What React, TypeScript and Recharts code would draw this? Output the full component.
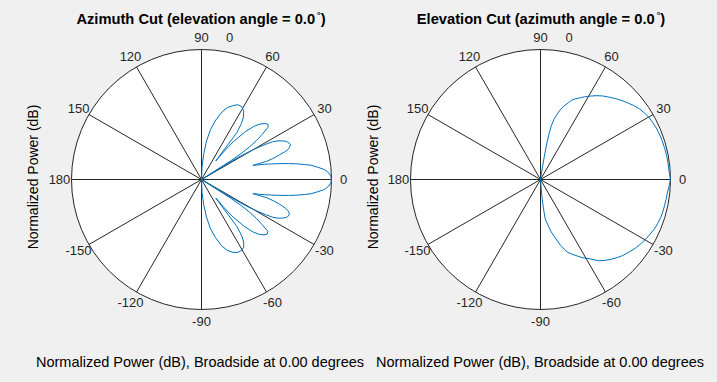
import React from "react";
import { RadarChart, Radar, PolarGrid, PolarAngleAxis, PolarRadiusAxis } from "recharts";

// angle ticks (deg), 0 at right, counter-clockwise
const ANGLE_TICKS = [-150, -120, -90, -60, -30, 0, 30, 60, 90, 120, 150, 180];
const POWER_RANGE: [number, number] = [-30, 0];

// azimuth cut (deg / dB)
const AZ_ANGLES = [
  -90, -87.5, -85, -82.5, -79.8, -76.5, -73.1, -70, -66.7, -63.5, -60.5, -58, -56, -54.5, -53, -52.4,
  -51.2, -49.9, -47.5, -45.5, -43.5, -41.5, -39.7, -38, -36.6, -35.4, -34.2, -33.3, -32.6, -32,
  -31.5, -30.9, -30.3, -29.6, -28.8, -27.9, -26.8, -25.5, -24, -22.5, -21, -19.8, -18.8, -17.6, -16.5, -15.6,
  -15.4, -14.5, -13.5, -12.6, -11.7, -10.4, -9.2, -8.3, -7.4, -6, -4.6, -3, -1.5, 0,
  1.5, 3, 4.6, 6, 7.4, 8.3, 9.2, 10.4, 11.7, 12.6, 13.5, 14.5, 15.4,
  15.6, 16.5, 17.6, 18.3, 19, 20, 21.3, 22.5, 24.1, 25.5, 26.8, 27.9, 28.8, 29.6, 30.3, 30.9, 31.5, 32,
  32.6, 33.3, 34.2, 35.4, 36.6, 38.1, 39.7, 41.5, 43.5, 45.5, 47.5, 49.9, 51.2, 52.4,
  53, 54.5, 56.2, 58.5, 61, 64, 66.7, 70, 73.1, 76.5, 79.8, 82.5, 85, 87.5, 90,
];
const AZ_POWER = [
  -30, -27, -24.2, -21.3, -18.6, -16.2, -14, -12.6, -11.7, -11.2, -11.2, -11.6, -12.6, -14, -16.5, -24.6,
  -21.6, -18.6, -15.2, -13, -11.6, -10.7, -10.3, -10.6, -12.6, -14.4, -16.5, -18.9, -22, -30,
  -24, -19.5, -17.4, -15.3, -13.2, -11.4, -10.2, -9.3, -8.5, -8.2, -8.3, -8.8, -9.6, -11.1, -12.6, -14.4,
  -17.7, -16.5, -15, -13.5, -12, -9.6, -7.5, -6, -4.5, -3, -1.5, -0.6, -0.15, 0,
  -0.15, -0.6, -1.5, -3, -4.5, -6, -7.5, -9.6, -12, -13.5, -15, -16.5, -17.7,
  -14.4, -12.6, -11.1, -9.9, -9, -8.4, -7.95, -8.1, -8.5, -9.3, -10.2, -11.4, -13.2, -15.3, -17.4, -19.5, -24, -30,
  -21.9, -18.9, -16.5, -14.4, -12.6, -10.5, -10.05, -10.5, -11.4, -12.9, -15, -18.6, -21.6, -24.6,
  -16.5, -14.1, -12.6, -11.4, -10.8, -10.8, -11.4, -12.3, -13.65, -15.9, -18.3, -21, -24, -27, -30,
];

// elevation cut
const EL_ANGLES = [
  -90, -87, -85.5, -84.5, -83.3, -82, -80.5, -78.5, -76, -73, -71, -69.3, -67.5, -65.5, -63, -61, -58,
  -54.3, -51.5, -48.5, -45.5, -43, -39.5, -36, -33, -29.6, -26.5, -23.5, -20.5, -17.6, -15, -12, -9, -6.6, -3, 0,
  2, 4.3, 7, 10, 14, 18, 21, 24, 27, 30.2, 33, 35.5, 38.5, 41, 44, 47, 50, 53.5, 56.5, 60, 62, 64, 66.8,
  68.5, 70, 72.5, 74.3, 76, 77.5, 78.7, 79.5, 80, 80.5, 81, 81.5, 90,
];
const EL_POWER = [
  -30, -30, -26.5, -24, -21, -20.1, -19.2, -17.7, -16.2, -14.1, -12.9, -12, -11.4, -10.8, -9.95, -9.3, -8.4,
  -6.9, -6.15, -5.4, -4.74, -4.2, -3.6, -3, -2.55, -2.1, -1.74, -1.35, -1.11, -0.9, -0.81, -0.75, -0.66, -0.6, -0.3, 0,
  -0.15, -0.3, -0.33, -0.36, -0.45, -0.54, -0.63, -0.75, -0.96, -1.2, -1.56, -1.95, -2.55, -3.15, -3.81, -4.5,
  -5.22, -6, -6.81, -7.8, -8.4, -9, -9.75, -10.35, -11.1, -12.3, -13.35, -14.7, -15.9, -17.4, -19.5, -21, -24,
  -27, -30, -30,
];

const azData = AZ_ANGLES.map((angle, i) => ({ angle, power: AZ_POWER[i] }));
const elData = EL_ANGLES.map((angle, i) => ({ angle, power: EL_POWER[i] }));

const FONT = '"Liberation Sans", Arial, Helvetica, sans-serif';
const R = 130;

const AngleTick = (props: any) => (
  <text
    x={props.x}
    y={props.y}
    textAnchor="middle"
    dominantBaseline="central"
    fontSize={13}
    fontFamily={FONT}
    fill="#262626"
  >
    {props.payload.value}
  </text>
);

const PolarPlot = ({ data, left, width, cx }: { data: any[]; left: number; width: number; cx: number }) => {
  const cy = 179.5;
  return (
    <div style={{ position: "absolute", left, top: 0, width, height: 382 }}>
      <div
        style={{
          position: "absolute",
          left: cx - R,
          top: cy - R,
          width: 2 * R,
          height: 2 * R,
          borderRadius: "50%",
          background: "#fff",
        }}
      />
      <div style={{ position: "absolute", left: 0, top: 0 }}>
        <RadarChart
          width={width}
          height={382}
          data={data}
          cx={cx}
          cy={cy}
          outerRadius={R}
          startAngle={-180}
          endAngle={180}
          margin={{ top: 0, right: 0, bottom: 0, left: 0 }}
        >
          <PolarGrid gridType="circle" polarRadius={[R]} stroke="#262626" strokeWidth={1} />
          <PolarAngleAxis
            dataKey="angle"
            type="number"
            domain={[-180, 180]}
            ticks={ANGLE_TICKS}
            tick={AngleTick}
            tickLine={false}
            axisLine={false}
            tickSize={12}
          />
          <PolarRadiusAxis type="number" domain={POWER_RANGE} tick={false} axisLine={false} />
          <Radar
            dataKey="power"
            stroke="#0072BD"
            strokeWidth={1}
            fill="none"
            fillOpacity={0}
            dot={false}
            isAnimationActive={false}
          />
        </RadarChart>
      </div>
    </div>
  );
};

export default function App() {
  return (
    <div
      style={{
        position: "relative",
        width: 717,
        height: 382,
        background: "#f0f0f0",
        overflow: "hidden",
        fontFamily: FONT,
      }}
    >
      <style>{`body{margin:0}`}</style>
      <PolarPlot data={azData} left={0} width={358} cx={201.5} />
      <PolarPlot data={elData} left={358} width={359} cx={182.5} />
      <svg width={717} height={382} style={{ position: "absolute", left: 0, top: 0, pointerEvents: "none" }} fontFamily={FONT}>
        <text x={201} y={24} textAnchor="middle" fontSize={14.7} fontWeight="bold" fill="#000">
          Azimuth Cut (elevation angle = 0.0
          <tspan dx={2} dy={-6} fontSize={9}>°</tspan>
          <tspan dy={6}>)</tspan>
        </text>
        <text x={541} y={24} textAnchor="middle" fontSize={14.7} fontWeight="bold" fill="#000">
          Elevation Cut (azimuth angle = 0.0
          <tspan dx={2} dy={-6} fontSize={9}>°</tspan>
          <tspan dy={6}>)</tspan>
        </text>
        <text x={229.5} y={42} textAnchor="middle" fontSize={13} fill="#262626">0</text>
        <text x={569} y={42} textAnchor="middle" fontSize={13} fill="#262626">0</text>
        <text transform="translate(38,177) rotate(-90)" textAnchor="middle" fontSize={14} fill="#000">
          Normalized Power (dB)
        </text>
        <text transform="translate(378,177) rotate(-90)" textAnchor="middle" fontSize={14} fill="#000">
          Normalized Power (dB)
        </text>
        <text x={200} y={367} textAnchor="middle" fontSize={14.5} fill="#000">
          Normalized Power (dB), Broadside at 0.00 degrees
        </text>
        <text x={540} y={367} textAnchor="middle" fontSize={14.5} fill="#000">
          Normalized Power (dB), Broadside at 0.00 degrees
        </text>
      </svg>
    </div>
  );
}
